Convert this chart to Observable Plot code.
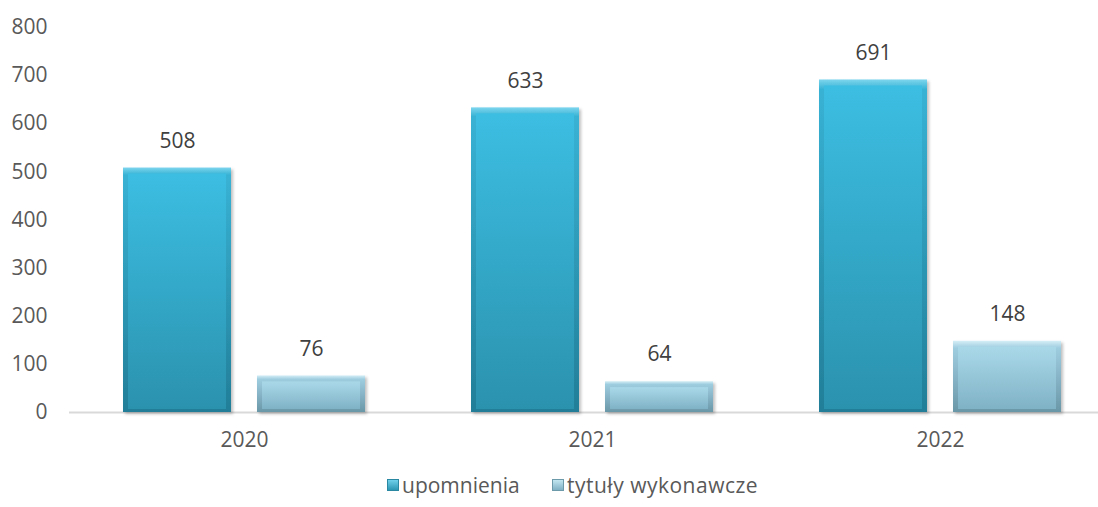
<!DOCTYPE html>
<html><head><meta charset="utf-8">
<script src="https://cdn.jsdelivr.net/npm/d3@7"></script>
<script src="https://cdn.jsdelivr.net/npm/@observablehq/plot@0.6"></script>
<style>
body{margin:0;background:#fff;font-family:"Open Sans",sans-serif;}
#legend{position:relative;height:45px;font-size:21px;color:#595959;}
.item{position:absolute;top:0;height:45px;display:flex;align-items:center;}
.sw{width:12px;height:12px;margin-right:3px;box-sizing:border-box;}
.sw.u{background:linear-gradient(#6fd0ea,#2b96b3);border:1px solid #2a88a3;}
.sw.t{background:linear-gradient(#c2e6f1,#7fb0c4);border:1px solid #6d9aab;}
</style></head><body>
<div id="chart"></div>
<div id="legend">
  <div class="item" style="left:387px"><span class="sw u"></span><span>upomnienia</span></div>
  <div class="item" style="left:552px"><span class="sw t"></span><span style="letter-spacing:0.5px">tytuły wykonawcze</span></div>
</div>
<script>
const years = ["2020", "2021", "2022"];
const seriesNames = ["upomnienia", "tytuły wykonawcze"];
const upomnienia = [508, 633, 691];
const tytuly = [76, 64, 148];
const yTicks = [0, 100, 200, 300, 400, 500, 600, 700, 800];

const rowsU = years.map((y, i) => ({year: y, series: seriesNames[0], value: upomnienia[i]}));
const rowsT = years.map((y, i) => ({year: y, series: seriesNames[1], value: tytuly[i]}));

const svg = Plot.plot({
  width: 1098,
  height: 462,
  marginLeft: 69,
  marginRight: 0,
  marginTop: 27,
  marginBottom: 50,
  style: {fontSize: "21px", fontFamily: "'Open Sans', sans-serif", color: "#595959", background: "#fff"},
  x: {domain: years, range: [69, 1114], padding: 0, tickSize: 0, tickPadding: 20, label: null},
  y: {domain: [0, 800], ticks: yTicks, tickSize: 0, tickPadding: 22, label: null},
  marks: [
    Plot.ruleY([0], {stroke: "#d9d9d9", strokeWidth: 2}),
    Plot.barY(rowsU, {x: "year", y: "value", fill: "url(#gUo)", insetLeft: 53, insetRight: 187}),
    Plot.barY(rowsU, {x: "year", y: "value", fill: "url(#gUi)", insetLeft: 58, insetRight: 192, insetTop: 6, insetBottom: 3}),
    Plot.barY(rowsT, {x: "year", y: "value", fill: "url(#gTo)", insetLeft: 187, insetRight: 53}),
    Plot.barY(rowsT, {x: "year", y: "value", fill: "url(#gTi)", insetLeft: 192, insetRight: 58, insetTop: 6, insetBottom: 3}),
    Plot.text(rowsU, {x: "year", y: "value", text: d => String(d.value), dx: -67, dy: -27, fill: "#404040", fontSize: 21}),
    Plot.text(rowsT, {x: "year", y: "value", text: d => String(d.value), dx: 67, dy: -27, fill: "#404040", fontSize: 21})
  ]
});

svg.insertAdjacentHTML("afterbegin", `<defs>
  <linearGradient id="gUo" x1="0" y1="0" x2="0" y2="1">
    <stop offset="0" stop-color="#7dd6ee"/><stop offset="0.03" stop-color="#38b2d4"/><stop offset="1" stop-color="#227e98"/>
  </linearGradient>
  <linearGradient id="gUi" x1="0" y1="0" x2="0" y2="1">
    <stop offset="0" stop-color="#3cbee2"/><stop offset="1" stop-color="#2b92ae"/>
  </linearGradient>
  <linearGradient id="gTo" x1="0" y1="0" x2="0" y2="1">
    <stop offset="0" stop-color="#d4eef6"/><stop offset="0.1" stop-color="#9fcde0"/><stop offset="1" stop-color="#6a97a8"/>
  </linearGradient>
  <linearGradient id="gTi" x1="0" y1="0" x2="0" y2="1">
    <stop offset="0" stop-color="#a9d9e9"/><stop offset="1" stop-color="#80b2c6"/>
  </linearGradient>
  <filter id="sh" x="-10%" y="-10%" width="130%" height="130%">
    <feDropShadow dx="2" dy="2" stdDeviation="1.5" flood-color="#000" flood-opacity="0.25"/>
  </filter>
</defs>`);
const barGroups = svg.querySelectorAll('g[aria-label="bar"]');
if (barGroups[0]) barGroups[0].setAttribute("filter", "url(#sh)");
if (barGroups[2]) barGroups[2].setAttribute("filter", "url(#sh)");

document.getElementById("chart").appendChild(svg);
</script>
</body></html>
